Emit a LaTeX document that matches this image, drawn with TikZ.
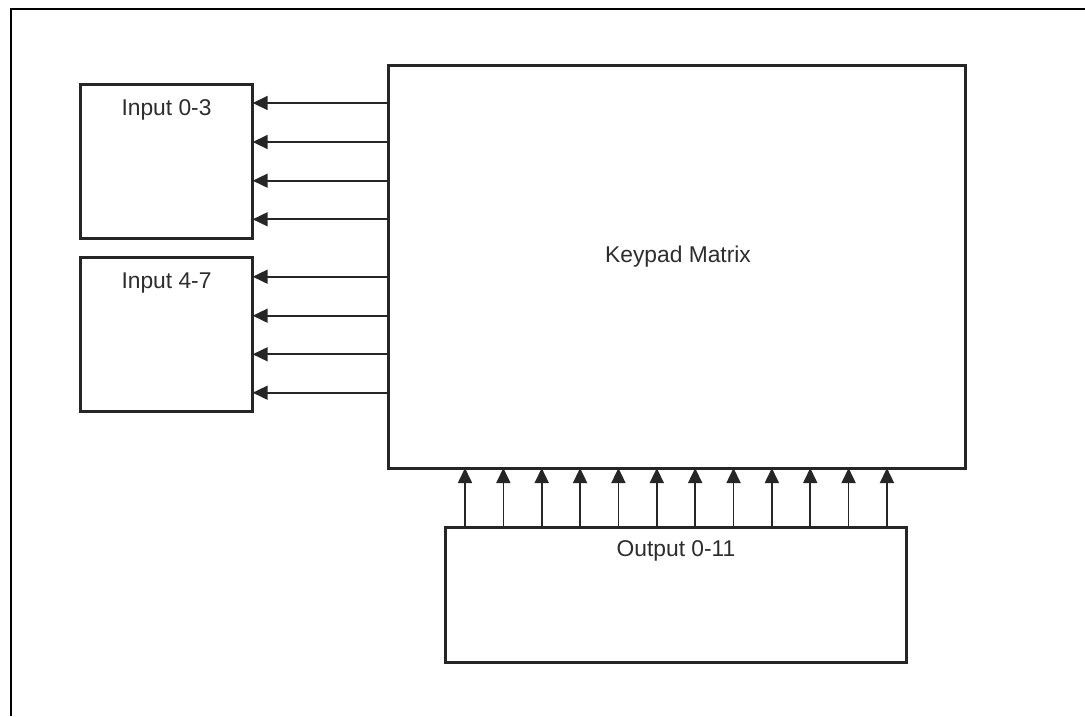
\documentclass[tikz,border=0pt]{standalone}
\usepackage{fontspec}
\setmainfont{Liberation Sans}
\usepackage{tikz}
\definecolor{boxgray}{RGB}{38,38,38}
\definecolor{txtgray}{RGB}{45,45,45}
\usetikzlibrary{arrows.meta, positioning}

\begin{document}
\begin{tikzpicture}[x=1pt, y=-1pt, >={Triangle[length=15pt,width=14pt]},   %pixel grid, y downwards
					box/.style={draw=boxgray, line width=3pt, fill=white, inner sep=0pt, outer sep=0pt},
					sig/.style={draw=boxgray, line width=1.7pt, ->},
					lbl/.style={text=txtgray, inner sep=0pt, font=\fontsize{22.8}{27}\selectfont}]
					\useasboundingbox (0,0) rectangle (1085,716);
					\draw[line width=2.6pt] (11,716) -- (11,9) -- (1086,9);
					\node[box, minimum width=172pt, minimum height=154pt] (in03) at (166.7,161) {};
					\node[box, minimum width=172pt, minimum height=154.7pt] (in47) at (166.7,334.6) {};
					\node[box, minimum width=577pt, minimum height=403pt] (matrix) at (676.5,266.5) {};
					\node[box, minimum width=461pt, minimum height=135pt] (out) at (675.5,594.5) {};
					\node[lbl] (in03txt) at (166.5,110) {Input 0-3};
					\node[lbl] (in47txt) at (166.5,283.5) {Input 4-7};
					\node[lbl] (matrixtxt) at (678,257) {Keypad Matrix};
					\node[lbl] (outtxt) at (676,551) {Output 0-11};
					\foreach \y in {103,142,180.7,219.3}
						\draw[sig] (matrix.west |- 0,\y) -- (in03.east |- 0,\y);
					\foreach \y in {276.7,315.7,354.3,392.7}
						\draw[sig] (matrix.west |- 0,\y) -- (in47.east |- 0,\y);
					\foreach \i in {0,...,11}
						\draw[sig] (out.north -| 465+38.36*\i,0) -- (matrix.south -| 465+38.36*\i,0);
				\end{tikzpicture}
\end{document}
